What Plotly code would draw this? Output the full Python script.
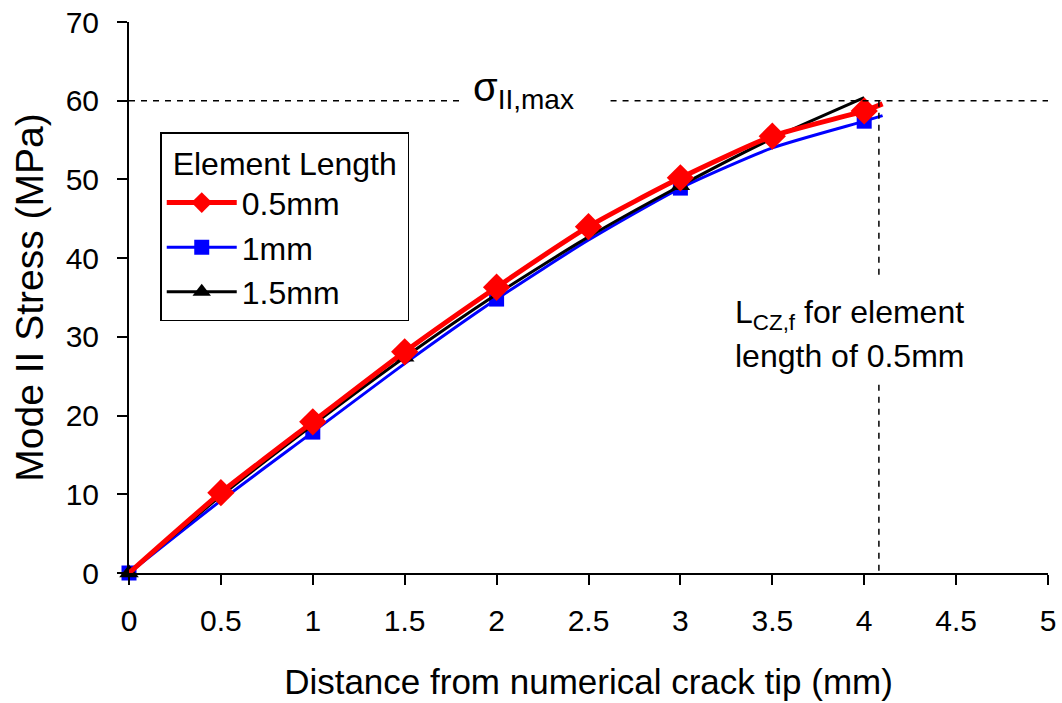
import plotly.graph_objects as go

# ---- data ----
x_05 = [0, 0.5, 1, 1.5, 2, 2.5, 3, 3.5, 4, 4.1]
y_05 = [0, 10.2, 19.2, 28.1, 36.3, 44.0, 50.2, 55.5, 58.7, 59.6]
mk_05 = [0.5, 1, 1.5, 2, 2.5, 3, 3.5, 4]

x_10 = [0, 0.5, 1, 1.5, 2, 2.5, 3, 3.5, 4, 4.1]
y_10 = [0, 9.2, 17.9, 26.6, 34.8, 42.3, 48.9, 54.0, 57.4, 58.1]
mk_10 = [0, 1, 2, 3, 4]

x_15 = [0, 0.5, 1, 1.5, 2, 2.5, 3, 3.5, 4.0]
y_15 = [0, 9.8, 18.8, 27.4, 35.4, 42.7, 49.2, 55.2, 60.4]
mk_15 = [0, 1.5, 3]

sigma_max = 60
lcz_x = 4.08

x_ticks = [0, 0.5, 1, 1.5, 2, 2.5, 3, 3.5, 4, 4.5, 5]
x_tick_text = ["0", "0.5", "1", "1.5", "2", "2.5", "3", "3.5", "4", "4.5", "5"]
y_ticks = [0, 10, 20, 30, 40, 50, 60, 70]

FONT = "Arial, Liberation Sans, sans-serif"

series = [
    ("1mm", x_10, y_10, mk_10, "#0000FF", 3, "square", 15),
    ("1.5mm", x_15, y_15, mk_15, "#000000", 3, "triangle-up", 17),
    ("0.5mm", x_05, y_05, mk_05, "#FF0000", 5, "diamond", 21),
]

fig = go.Figure()
for name, xs, ys, mks, col, lw, sym, ms in series:
    fig.add_trace(go.Scatter(x=xs, y=ys, mode="lines", line=dict(color=col, width=lw, shape="spline", smoothing=0.6),
                             showlegend=False, cliponaxis=False, hoverinfo="skip"))
    my = [ys[xs.index(m)] for m in mks]
    fig.add_trace(go.Scatter(x=mks, y=my, mode="markers", marker=dict(symbol=sym, size=ms, color=col),
                             showlegend=False, cliponaxis=False))

# legend-only entries in reference order
for name, xs, ys, mks, col, lw, sym, ms in [series[2], series[0], series[1]]:
    fig.add_trace(go.Scatter(x=[None], y=[None], mode="lines+markers", name=name,
                             line=dict(color=col, width=lw),
                             marker=dict(symbol=sym, size=ms, color=col)))

dash = dict(color="black", width=1.5, dash="6px,6px")
shapes = [
    dict(type="line", xref="x", yref="y", x0=0, x1=1.81, y0=sigma_max, y1=sigma_max, line=dash),
    dict(type="line", xref="x", yref="y", x0=2.62, x1=5, y0=sigma_max, y1=sigma_max, line=dash),
    dict(type="line", xref="x", yref="y", x0=lcz_x, x1=lcz_x, y0=sigma_max, y1=37.2, line=dash),
    dict(type="line", xref="x", yref="y", x0=lcz_x, x1=lcz_x, y0=23.9, y1=0, line=dash),
]

annotations = [
    dict(x=1.86, y=61.4, xref="x", yref="y", xanchor="left", text="σ<sub>II,max</sub>", showarrow=False,
         font=dict(family=FONT, size=40, color="black")),
    dict(x=3.286, y=32.8, xref="x", yref="y", xanchor="left", text="L<sub>CZ,f</sub> for element",
         showarrow=False, font=dict(family=FONT, size=32, color="black")),
    dict(x=3.286, y=27.6, xref="x", yref="y", xanchor="left", text="length of 0.5mm",
         showarrow=False, font=dict(family=FONT, size=32, color="black")),
]

fig.update_layout(
    width=1062, height=703,
    margin=dict(l=129, r=14, t=22, b=130),
    paper_bgcolor="white", plot_bgcolor="white",
    font=dict(family=FONT, size=30, color="black"),
    shapes=shapes, annotations=annotations,
    legend=dict(x=0.034, y=0.80, xanchor="left", yanchor="top",
                bgcolor="white", bordercolor="black", borderwidth=1.5,
                font=dict(family=FONT, size=32, color="black"),
                title=dict(text="&nbsp;Element Length&nbsp;", font=dict(family=FONT, size=32, color="black")),
                itemwidth=70),
    xaxis=dict(range=[0, 5], tickvals=x_ticks, ticktext=x_tick_text, showgrid=False, zeroline=False,
               showline=True, linecolor="black", linewidth=2, ticks="outside", ticklen=10, tickwidth=2,
               tickcolor="black", tickfont=dict(size=30), ticklabelstandoff=10, automargin=False,
               title=dict(text="Distance from numerical crack tip (mm)", font=dict(size=35), standoff=33)),
    yaxis=dict(range=[0, 70], tickvals=y_ticks, showgrid=False, zeroline=False,
               showline=True, linecolor="black", linewidth=2, ticks="outside", ticklen=10, tickwidth=2,
               tickcolor="black", tickfont=dict(size=30), ticklabelstandoff=12, automargin=False,
               title=dict(text="Mode II Stress (MPa)", font=dict(size=39), standoff=10)),
)

fig.write_html("out.html")
